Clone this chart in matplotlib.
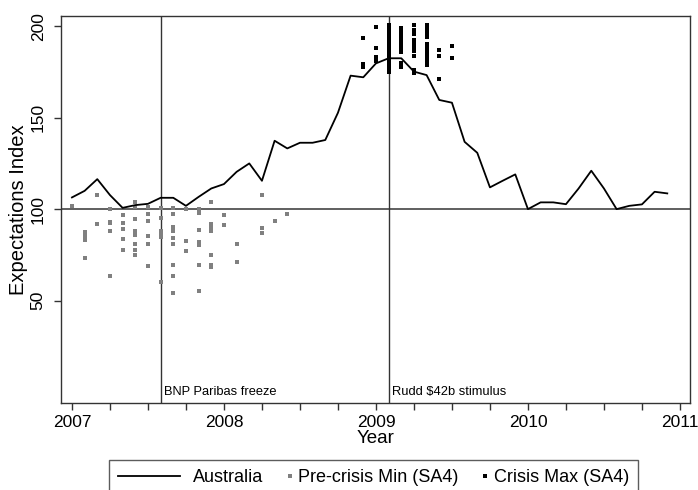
import numpy as np
import matplotlib.pyplot as plt
from matplotlib.legend_handler import HandlerBase
from matplotlib.lines import Line2D

plt.rcParams['font.family'] = ['Liberation Sans', 'DejaVu Sans']

# Australia expectations index, monthly Jan 2007 - Dec 2010
aus_index = [106.4, 110.0, 116.4, 107.7, 100.7, 102.2, 102.9, 106.2, 106.2, 101.8, 106.7, 111.3,
             113.7, 120.4, 125.0, 115.5, 137.4, 133.2, 136.3, 136.3, 137.8, 152.7, 173.0, 172.1,
             179.7, 182.5, 182.5, 175.2, 173.3, 159.7, 158.2, 136.8, 130.8, 111.9, 115.5, 119.0,
             100.0, 103.7, 103.7, 102.7, 111.3, 121.0, 111.3, 100.0, 101.8, 102.6, 109.5, 108.6]

# pre-crisis minimum by SA4 region, one list per month from Jan 2007
pre_min_start = 0
pre_min = [
    [101.6],
    [87.6, 85.2, 84.3, 83.0, 73.3],
    [107.7, 91.6],
    [99.8, 93.0, 92.2, 88.0, 63.3],
    [96.7, 92.2, 89.4, 83.4, 77.9],
    [104.0, 101.3, 94.4, 88.1, 86.7, 85.8, 81.2, 77.9, 74.8],
    [101.3, 97.6, 93.4, 85.2, 80.8, 68.8],
    [100.4, 94.9, 88.1, 86.5, 85.0, 59.9],
    [100.7, 97.1, 90.3, 88.0, 84.0, 81.2, 69.3, 63.5, 53.9],
    [99.8, 82.5, 77.2],
    [99.8, 98.0, 88.5, 82.1, 80.3, 69.3, 55.1],
    [103.7, 91.8, 90.3, 88.0, 74.8, 69.7, 68.1],
    [96.7, 91.2],
    [80.7, 71.2],
    [],
    [107.7, 89.8, 86.7],
    [93.4],
    [97.6],
]

# crisis maximum by SA4 region, one list per month from Dec 2008
crisis_max_start = 23
crisis_max = [
    [193.8, 179.5, 177.5],
    [199.8, 188.0, 183.4, 181.0],
    [200.5, 198.5, 196.5, 194.5, 192.5, 190.5, 188.5, 186.5, 184.5, 182.5, 180.5, 178.5, 176.5, 175.0],
    [199.3, 197.3, 195.3, 193.3, 191.3, 189.3, 187.3, 186.0, 179.8, 177.5],
    [200.5, 198.0, 195.5, 192.5, 190.5, 188.5, 186.5, 184.0, 176.0, 174.5],
    [200.5, 198.5, 196.5, 194.0, 190.5, 188.5, 186.5, 184.5, 182.5, 180.5, 178.8],
    [187.0, 184.0, 171.2],
    [189.0, 182.5],
]

events = [(7, 'BNP Paribas freeze'), (25, 'Rudd $42b stimulus')]


def month_to_year(m):
    return 2007 + np.asarray(m) / 12.0


def flatten(groups, start):
    xs, ys = [], []
    for i, vals in enumerate(groups):
        xs += [start + i] * len(vals)
        ys += vals
    return month_to_year(xs), np.array(ys)


class RightMarker(HandlerBase):
    # put the marker next to the label, like Stata does
    def create_artists(self, legend, orig_handle, xdescent, ydescent,
                       width, height, fontsize, trans):
        x = -xdescent + width + 3
        y = height / 2 - ydescent
        m = Line2D([x], [y], marker='s', ls='none',
                   color=orig_handle.get_color(),
                   ms=orig_handle.get_markersize(), mew=0)
        m.set_transform(trans)
        return [m]


fig = plt.figure(figsize=(6.98, 4.90), dpi=100)
ax = fig.add_axes([0.0874, 0.1776, 0.9011, 0.7897])

ax.axhline(100, color='#444444', lw=1.2, zorder=1)
for m, label in events:
    xv = month_to_year(m)
    ax.axvline(xv, color='#333333', lw=1.0, zorder=1)
    ax.text(xv + 0.02, 0, label, fontsize=9.3, va='center', ha='left')

px, py = flatten(pre_min, pre_min_start)
cx, cy = flatten(crisis_max, crisis_max_start)
line, = ax.plot(month_to_year(np.arange(len(aus_index))), aus_index,
                color='black', lw=1.3, zorder=3)
pre, = ax.plot(px, py, 's', color='#808080', ms=3.2, mew=0, zorder=2)
cri, = ax.plot(cx, cy, 's', color='black', ms=3.2, mew=0, zorder=2)

ax.set_xlim(2006.928, 2011.066)
ax.set_ylim(-6, 205.6)

qticks = 2007 + np.arange(17) * 0.25
ax.set_xticks(qticks)
ax.set_xticklabels([str(int(t)) if t == int(t) else '' for t in qticks], fontsize=12.5)
ax.set_yticks([50, 100, 150, 200])
ax.set_yticklabels(['50', '100', '150', '200'], fontsize=12.5, rotation=90, va='center')
ax.tick_params(axis='both', length=5, width=1, color='#333333', direction='out')
ax.tick_params(axis='y', pad=6)

ax.set_xlabel('Year', fontsize=13.5, labelpad=0)
ax.set_ylabel('Expectations Index', fontsize=14.5, labelpad=2)

for s in ax.spines.values():
    s.set_color('#333333')
    s.set_linewidth(1.0)

leg = fig.legend([line, pre, cri], ['Australia', 'Pre-crisis Min (SA4)', 'Crisis Max (SA4)'],
                 loc='upper center', bbox_to_anchor=(0.535, 0.061), ncol=3, fontsize=13,
                 frameon=True, fancybox=False, edgecolor='#333333', borderpad=0.5,
                 borderaxespad=0, handlelength=3.45, handletextpad=0.7, columnspacing=-2.2,
                 handler_map={pre: RightMarker(), cri: RightMarker()})
leg.get_frame().set_linewidth(1.0)

fig.savefig('out.png', dpi=100)
